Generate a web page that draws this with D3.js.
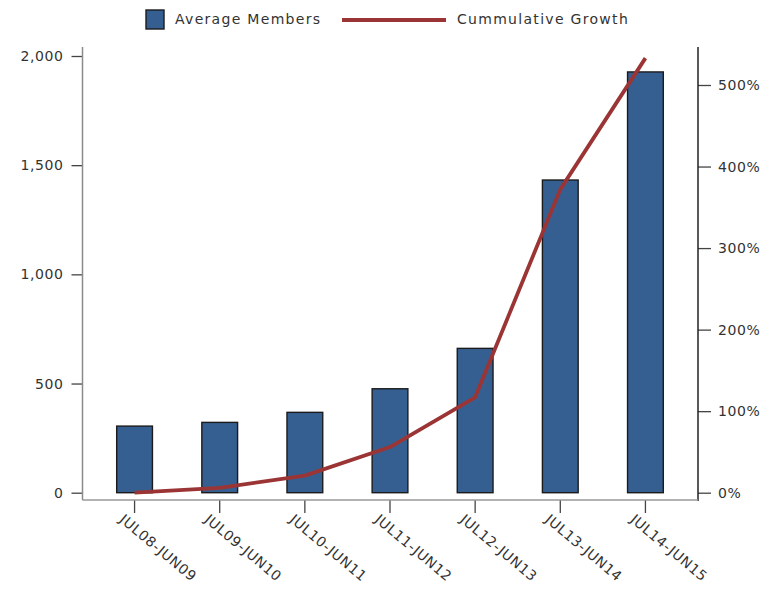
<!DOCTYPE html>
<html>
<head>
<meta charset="utf-8">
<script src="https://cdnjs.cloudflare.com/ajax/libs/d3/7.8.5/d3.min.js"></script>
<style>
  body { margin: 0; background: #fff; }
  svg text { font-family: "DejaVu Sans", Verdana, sans-serif; fill: #333; }
</style>
</head>
<body>
<div id="chart"></div>
<script>
const width = 771;
const height = 613;

// data
const periods = ["JUL08-JUN09", "JUL09-JUN10", "JUL10-JUN11", "JUL11-JUN12",
                 "JUL12-JUN13", "JUL13-JUN14", "JUL14-JUN15"];
const avgMembers = [305, 322, 368, 476, 661, 1432, 1927];
const cumGrowth = [0, 6, 21, 56, 117, 372, 533];   // percent
const leftTicks = [0, 500, 1000, 1500, 2000];
const rightTicks = [0, 100, 200, 300, 400, 500];

const barColor = "#365f91";
const lineColor = "#9b3535";

const svg = d3.select("#chart").append("svg")
    .attr("width", width)
    .attr("height", height);

// frame of the plot
const plotLeft = 82.5, plotRight = 698, plotTop = 47, plotBottom = 500;

//----------------------------SCALES----------------------------//
const x = d3.scaleBand()
    .domain(periods)
    .range([92, 688])
    .paddingInner(0.58)
    .paddingOuter(0.29);

const yLeft = d3.scaleLinear().domain([0, 2000]).range([492.7, 56]);
const yRight = d3.scaleLinear().domain([0, 500]).range([492.7, 85]);

//-----------------------------BARS-----------------------------//
svg.append("g")
    .selectAll("rect")
    .data(avgMembers)
    .join("rect")
    .attr("x", (d, i) => x(periods[i]))
    .attr("y", d => yLeft(d))
    .attr("width", x.bandwidth())
    .attr("height", d => yLeft(0) - yLeft(d))
    .attr("fill", barColor)
    .attr("stroke", "#1b1b1b")
    .attr("stroke-width", 1.4);

//----------------------------LINE------------------------------//
const line = d3.line()
    .x((d, i) => x(periods[i]) + x.bandwidth() / 2)
    .y(d => yRight(d));

svg.append("path")
    .datum(cumGrowth)
    .attr("d", line)
    .attr("fill", "none")
    .attr("stroke", lineColor)
    .attr("stroke-width", 3.8)
    .attr("stroke-linejoin", "round");

//-----------------------------AXES-----------------------------//
const leftAxis = svg.append("g")
    .attr("transform", `translate(${plotLeft},0)`)
    .call(d3.axisLeft(yLeft).tickValues(leftTicks).tickSize(11).tickPadding(8)
        .tickFormat(d3.format(",")));
leftAxis.select(".domain").remove();

const rightAxis = svg.append("g")
    .attr("transform", `translate(${plotRight},0)`)
    .call(d3.axisRight(yRight).tickValues(rightTicks).tickSize(13).tickPadding(7)
        .tickFormat(d => d + "%"));
rightAxis.select(".domain").remove();

const bottomAxis = svg.append("g")
    .attr("transform", `translate(0,${plotBottom})`)
    .call(d3.axisBottom(x).tickSize(13).tickSizeOuter(0));
bottomAxis.select(".domain").remove();
bottomAxis.selectAll(".tick text")
    .attr("transform", "translate(-16,21) rotate(40)")
    .attr("x", 0)
    .attr("y", 0)
    .attr("dy", "0")
    .style("text-anchor", "start");

svg.selectAll(".tick line").attr("stroke", "#444").attr("stroke-width", 1.3);
svg.selectAll(".tick text")
    .style("font-size", "14px")
    .style("letter-spacing", "0.6px")
    .attr("fill", "#333");

// axis lines
svg.append("line")
    .attr("x1", plotLeft).attr("x2", plotLeft)
    .attr("y1", plotTop).attr("y2", plotBottom)
    .attr("stroke", "#8a8a8a").attr("stroke-width", 1.5);
svg.append("line")
    .attr("x1", plotRight).attr("x2", plotRight)
    .attr("y1", plotTop).attr("y2", plotBottom + 1)
    .attr("stroke", "#222").attr("stroke-width", 1.5);
svg.append("line")
    .attr("x1", plotLeft).attr("x2", plotRight)
    .attr("y1", plotBottom).attr("y2", plotBottom)
    .attr("stroke", "#999").attr("stroke-width", 1.5);

//----------------------------LEGEND----------------------------//
const legend = svg.append("g").attr("transform", "translate(0,19)");
legend.append("rect")
    .attr("x", 146).attr("y", -9)
    .attr("width", 18).attr("height", 19)
    .attr("fill", barColor)
    .attr("stroke", "#1b1b1b")
    .attr("stroke-width", 1.4);
legend.append("text")
    .attr("x", 175).attr("y", 5)
    .style("font-size", "14px")
    .style("letter-spacing", "1.3px")
    .text("Average Members");
legend.append("line")
    .attr("x1", 342).attr("x2", 446)
    .attr("y1", 1).attr("y2", 1)
    .attr("stroke", lineColor)
    .attr("stroke-width", 3.8);
legend.append("text")
    .attr("x", 457).attr("y", 5)
    .style("font-size", "14px")
    .style("letter-spacing", "1.3px")
    .text("Cummulative Growth");
</script>
</body>
</html>
